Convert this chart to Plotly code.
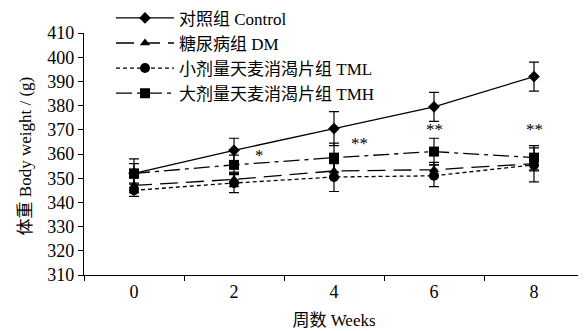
import plotly.graph_objects as go

weeks = ["0", "2", "4", "6", "8"]
control = [352, 361.5, 370.5, 379.5, 392]
control_err = [6, 5, 7, 6, 6]
dm = [347, 349.5, 353, 353.5, 356]
dm_err = [3, 3, 3, 3, 3]
tml = [345, 348, 350.5, 351, 355.5]
tml_err = [2.5, 4, 6, 4.5, 7]
tmh = [352, 355.5, 358.5, 361, 358.5]
tmh_err = [4, 4, 6, 5.5, 5]

names = ["对照组 Control", "糖尿病组 DM", "小剂量天麦消渴片组 TML", "大剂量天麦消渴片组 TMH"]

sig_labels = ["*", "**", "**", "**"]
sig_x = [1.25, 2.25, 3.0, 4.0]
sig_y = [359.5, 364.5, 370, 370]

FONT = "Liberation Serif, Times New Roman, Noto Sans CJK SC, serif"

fig = go.Figure()
specs = [
    (control, control_err, "solid", "diamond", 9),
    (dm, dm_err, "18px,8px", "triangle-up", 9),
    (tml, tml_err, "4px,3px", "circle", 10),
    (tmh, tmh_err, "16px,5px,4px,5px", "square", 10),
]
for name, (vals, err, dash, sym, size) in zip(names, specs):
    fig.add_trace(go.Scatter(
        x=weeks, y=vals, name=name, mode="lines+markers",
        line=dict(color="black", width=1.3, dash=dash),
        marker=dict(symbol=sym, size=size, color="black"),
        error_y=dict(type="data", array=err, visible=True, color="black",
                     thickness=1.2, width=5),
    ))

for lab, xx, yy in zip(sig_labels, sig_x, sig_y):
    fig.add_annotation(x=xx, y=yy, text=lab, showarrow=False,
                       font=dict(size=17, color="#000000", family=FONT))

fig.add_annotation(xref="paper", yref="paper", x=-0.118, y=0.49,
                   text="体重 Body weight / (g)", textangle=-90, showarrow=False,
                   xanchor="center", yanchor="middle",
                   font=dict(size=17, color="#000000", family=FONT))

fig.update_layout(
    width=586, height=331,
    margin=dict(l=76, r=10, t=25, b=64, autoexpand=False),
    paper_bgcolor="white", plot_bgcolor="white",
    font=dict(family=FONT, size=17, color="black"),
    showlegend=True,
    legend=dict(x=0.054, y=1.135, xanchor="left", yanchor="top",
                bgcolor="rgba(0,0,0,0)", font=dict(size=17, family=FONT),
                itemwidth=58, tracegroupgap=0),
)
fig.update_xaxes(
    type="category", range=[-0.5, 4.5],
    showline=True, linecolor="black", linewidth=1.3,
    ticks="outside", tickson="boundaries", ticklen=5, tickcolor="black",
    showgrid=False, zeroline=False,
    tickfont=dict(size=18, family=FONT),
    title=dict(text="周数 Weeks", font=dict(size=17, family=FONT), standoff=13),
)
fig.update_yaxes(
    range=[310, 410], dtick=10,
    showline=True, linecolor="black", linewidth=1.3,
    ticks="outside", ticklen=5, tickcolor="black",
    showgrid=False, zeroline=False,
    tickfont=dict(size=18, family=FONT),
)

fig.write_html("out.html")
